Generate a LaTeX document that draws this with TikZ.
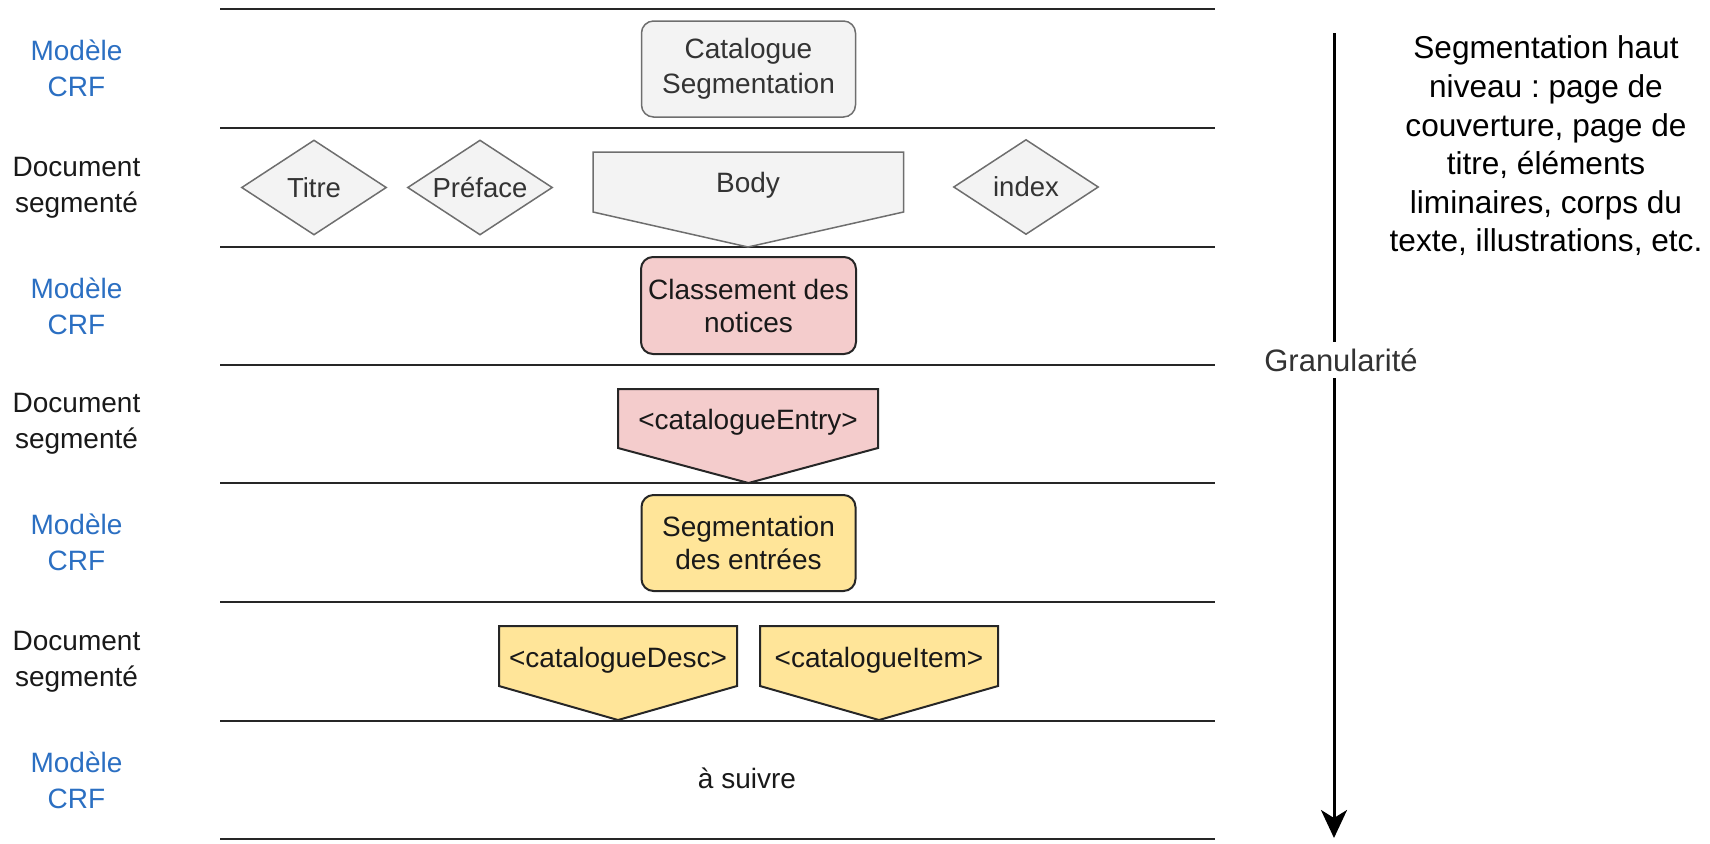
\documentclass[tikz,border=0pt]{standalone}
\usepackage{fontspec}
\setmainfont{Liberation Sans}
\usepackage{tikz}
\usetikzlibrary{arrows.meta, shapes, positioning}
\frenchspacing
\definecolor{crfblue}{HTML}{2B6FC2}
\definecolor{grayfill}{HTML}{F3F3F3}
\definecolor{grayline}{HTML}{6E6E6E}
\definecolor{pinkfill}{HTML}{F4CCCC}
\definecolor{yellowfill}{HTML}{FFE599}
\definecolor{textgray}{HTML}{333333}
\tikzstyle{sep} = [line width=1pt, draw=black!85]
\tikzstyle{level} = [align=center, font=\fontsize{14}{18}\selectfont]
\tikzstyle{model} = [level, text=crfblue]
\tikzstyle{doc} = [level, text=black!90]
\tikzstyle{graybox} = [draw=grayline, fill=grayfill, line width=0.75pt]
\tikzstyle{pinkbox} = [draw=black!85, fill=pinkfill, line width=1pt]
\tikzstyle{yellowbox} = [draw=black!85, fill=yellowfill, line width=1pt]
\tikzstyle{roundbox} = [rounded corners=6pt, align=center, inner sep=0pt]
\tikzstyle{segdiamond} = [graybox, diamond, aspect=1.5, inner sep=0pt, minimum width=72.5pt, minimum height=47.5pt, text=textgray, font=\fontsize{13.75}{16}\selectfont]
\tikzstyle{tag} = [inner sep=0pt, font=\fontsize{14}{16}\selectfont, text=black!90]

\begin{document}
\begin{tikzpicture}[x=0.5pt, y=-0.5pt]
					\useasboundingbox (0, 0) rectangle (1710, 843);

					\draw [sep] (220, 9) -- (1215, 9);
					\draw [sep] (220, 128) -- (1215, 128);
					\draw [sep] (220, 247) -- (1215, 247);
					\draw [sep] (220, 365) -- (1215, 365);
					\draw [sep] (220, 483) -- (1215, 483);
					\draw [sep] (220, 602) -- (1215, 602);
					\draw [sep] (220, 721) -- (1215, 721);
					\draw [sep] (220, 839) -- (1215, 839);

					\node (Model1) [model] at (76.5, 68.5) {Modèle\\CRF};
					\node (Doc1) [doc] at (76.5, 187.5) {Document\\segmenté};
					\node (Model2) [model] at (76.5, 306) {Modèle\\CRF};
					\node (Doc2) [doc] at (76.5, 424) {Document\\segmenté};
					\node (Model3) [model] at (76.5, 542.5) {Modèle\\CRF};
					\node (Doc3) [doc] at (76.5, 661.5) {Document\\segmenté};
					\node (Model4) [model] at (76.5, 780) {Modèle\\CRF};

					\node (CatSeg) [graybox, roundbox, minimum width=107pt, minimum height=48pt, text=textgray, font=\fontsize{14}{17.5}\selectfont] at (748.5, 69) {Catalogue\\Segmentation};

					\node (Titre) [segdiamond] at (314, 187.5) {Titre};
					\node (Preface) [segdiamond] at (480, 187.5) {Préface};
					\node (Index) [segdiamond] at (1026, 187) {index};

					\draw [graybox] (593, 152) -- (903.5, 152) -- (903.5, 212) -- (748, 247) -- (593, 212) -- cycle;
					\node (Body) [inner sep=0pt, text=textgray, font=\fontsize{14}{16}\selectfont] at (748, 185) {Body};

					\node (Classement) [pinkbox, roundbox, minimum width=107.5pt, minimum height=48.5pt, text=black!90, font=\fontsize{14}{16.5}\selectfont] at (748.5, 305.5) {Classement des\\notices};

					\draw [pinkbox] (618, 389) -- (878, 389) -- (878, 448) -- (748.5, 483) -- (618, 448) -- cycle;
					\node (Entry) [tag] at (748, 422) {<catalogueEntry>};

					\node (SegEntrees) [yellowbox, roundbox, minimum width=107pt, minimum height=48pt, text=black!90, font=\fontsize{14}{16.5}\selectfont] at (748.5, 543) {Segmentation\\des entrées};

					\draw [yellowbox] (499, 626) -- (737, 626) -- (737, 686) -- (618, 720) -- (499, 686) -- cycle;
					\node (Desc) [tag] at (618, 660) {<catalogueDesc>};

					\draw [yellowbox] (760, 626) -- (998, 626) -- (998, 686) -- (879, 720) -- (760, 686) -- cycle;
					\node (Item) [tag] at (879, 660) {<catalogueItem>};

					\node (Suivre) [tag] at (747, 778) {à suivre};

					\coordinate (GranTop) at (1334, 33);
					\coordinate (GranBottom) at (1334, 838);
					\draw [line width=1.5pt, -{Stealth[length=14pt, width=13pt, inset=4pt]}] (GranTop) -- (GranBottom);
					\node (Gran) [fill=white, inner sep=3pt, text=textgray, font=\fontsize{15.5}{17}\selectfont] at (1341, 360) {Granularité};

					\node (Note) [align=center, inner sep=0pt, font=\fontsize{15.8}{19.3}\selectfont] at (1546, 146) {Segmentation haut\\niveau : page de\\couverture, page de\\titre, éléments\\liminaires, corps du\\texte, illustrations, etc.};

				\end{tikzpicture}
\end{document}
